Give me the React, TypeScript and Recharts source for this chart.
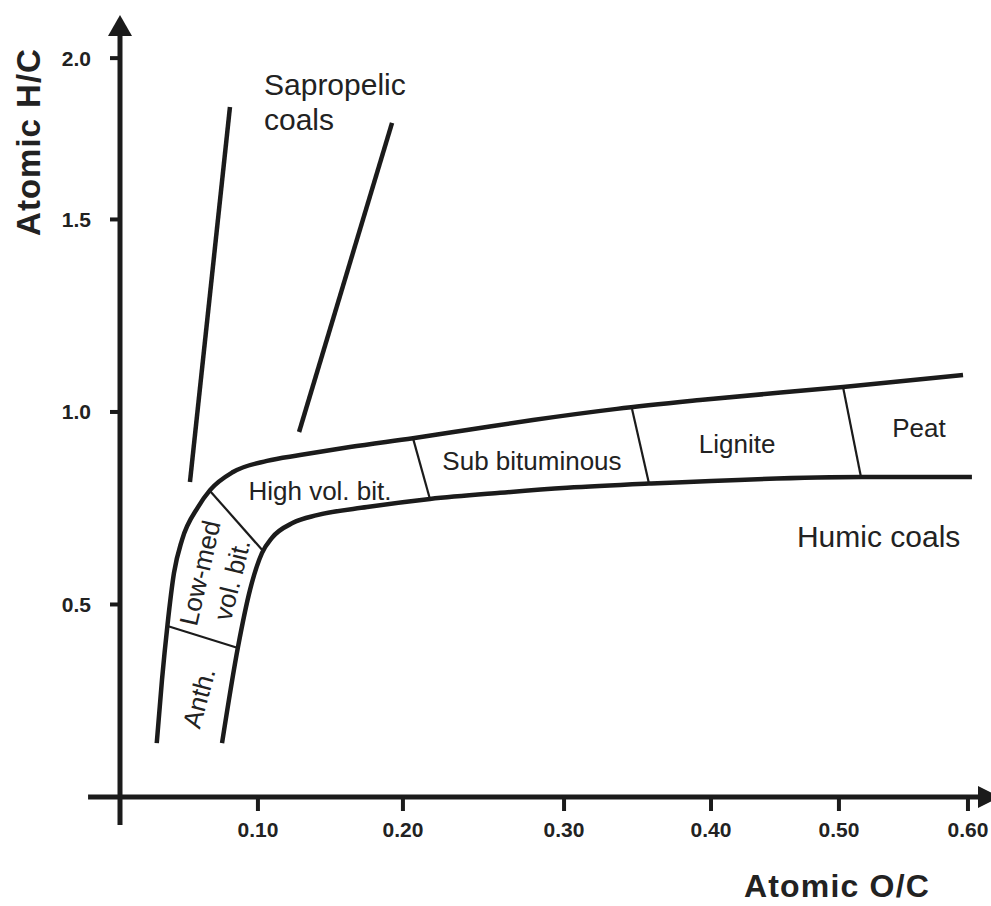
import React from 'react';
import { LineChart, Line, XAxis, YAxis, ReferenceLine, ReferenceDot, Label } from 'recharts';

const FONT = '"Liberation Sans", Arial, Helvetica, sans-serif';
const INK = '#1b1b1b';

// tick positions follow the (hand drawn) figure, labels are what it prints
const xTickPos = [0.0976, 0.2002, 0.3142, 0.4182, 0.5087, 0.6];
const xTickLabels = ['0.10', '0.20', '0.30', '0.40', '0.50', '0.60'];
const yTickPos = [0.5, 1.0, 1.5, 1.919];
const yTickLabels = ['0.5', '1.0', '1.5', '2.0'];

// humic coal band, [O/C, H/C]
const humicUpper: [number, number][] = [
  [0.026, 0.14], [0.0297, 0.304], [0.0336, 0.447], [0.0382, 0.582], [0.0439, 0.668],
  [0.0552, 0.753], [0.0637, 0.797], [0.08, 0.844], [0.104, 0.873], [0.1274, 0.888],
  [0.1627, 0.909], [0.2073, 0.932], [0.2455, 0.953], [0.2922, 0.979], [0.3516, 1.008],
  [0.4104, 1.031], [0.5116, 1.065], [0.5965, 1.096],
];
const humicLower: [number, number][] = [
  [0.0722, 0.14], [0.0835, 0.39], [0.092, 0.538], [0.1005, 0.634], [0.1075, 0.673],
  [0.1224, 0.712], [0.1394, 0.732], [0.1748, 0.753], [0.2193, 0.774], [0.2689, 0.79],
  [0.3163, 0.803], [0.3743, 0.814], [0.525, 0.831], [0.6028, 0.831],
];

// rank boundaries across the band
const anthLowMed: [number, number][] = [[0.0336, 0.444], [0.0835, 0.387]];
const lowMedHighVol: [number, number][] = [[0.0637, 0.795], [0.1005, 0.642]];
const highVolSub: [number, number][] = [[0.2073, 0.932], [0.2193, 0.774]];
const subLignite: [number, number][] = [[0.3623, 1.008], [0.3743, 0.814]];
const lignitePeat: [number, number][] = [[0.5116, 1.065], [0.5243, 0.831]];

// sapropelic coal trend lines
const sapropelicLeft: [number, number][] = [[0.0495, 0.818], [0.0778, 1.792]];
const sapropelicRight: [number, number][] = [[0.1267, 0.948], [0.1925, 1.751]];

const boundaries = [anthLowMed, lowMedHighVol, highVolSub, subLignite, lignitePeat];

type Note = { text: string; x: number; y: number; size: number; anchor: 'start' | 'middle'; rotate?: number };
const notes: Note[] = [
  { text: 'Sapropelic', x: 0.1019, y: 1.823, size: 30, anchor: 'start' },
  { text: 'coals', x: 0.1019, y: 1.732, size: 30, anchor: 'start' },
  { text: 'Humic coals', x: 0.479, y: 0.649, size: 30, anchor: 'start' },
  { text: 'High vol. bit.', x: 0.1415, y: 0.771, size: 26, anchor: 'middle' },
  { text: 'Sub bituminous', x: 0.2915, y: 0.849, size: 26, anchor: 'middle' },
  { text: 'Lignite', x: 0.4366, y: 0.894, size: 26, anchor: 'middle' },
  { text: 'Peat', x: 0.5653, y: 0.935, size: 26, anchor: 'middle' },
  { text: 'Low-med', x: 0.0566, y: 0.582, size: 26, anchor: 'middle', rotate: -77 },
  { text: 'vol. bit.', x: 0.0792, y: 0.564, size: 26, anchor: 'middle', rotate: -76 },
  { text: 'Anth.', x: 0.0559, y: 0.257, size: 26, anchor: 'middle', rotate: -75 },
];

const toPts = (arr: [number, number][]) => arr.map(([x, y]) => ({ x, y }));

export default function App() {
  return (
    <div style={{ position: 'absolute', left: 0, top: 0, background: '#fff' }}>
      <LineChart width={991} height={906} margin={{ top: 15, right: 0, bottom: 0, left: 0 }}>
        <XAxis
          dataKey="x"
          type="number"
          domain={[0, 0.6163]}
          allowDataOverflow
          ticks={xTickPos}
          tickFormatter={(v: number) => xTickLabels[xTickPos.indexOf(v)]}
          height={109}
          axisLine={false}
          tickSize={14}
          tickMargin={11}
          tickLine={{ stroke: INK, strokeWidth: 4 }}
          tick={{ fill: '#222', fontSize: 21, fontWeight: 700, fontFamily: FONT }}
        >
          <Label
            content={({ viewBox }: any) => (
              <text x={viewBox.x + 717} y={viewBox.y + 100} textAnchor="middle"
                fontSize={32} fontWeight={700} letterSpacing={1.2} fontFamily={FONT} fill="#222">
                Atomic O/C
              </text>
            )}
          />
        </XAxis>
        <YAxis
          type="number"
          domain={[0, 2.031]}
          allowDataOverflow
          ticks={yTickPos}
          tickFormatter={(v: number) => yTickLabels[yTickPos.indexOf(v)]}
          width={120}
          axisLine={false}
          tickSize={10}
          tickMargin={19}
          tickLine={{ stroke: INK, strokeWidth: 4 }}
          tick={{ fill: '#222', fontSize: 21, fontWeight: 700, fontFamily: FONT }}
        >
          <Label
            content={({ viewBox }: any) => (
              <text x={28} y={viewBox.y + 127} textAnchor="middle" dominantBaseline="central"
                transform={`rotate(-90 28 ${viewBox.y + 127})`}
                fontSize={33} fontWeight={700} letterSpacing={1} fontFamily={FONT} fill="#222">
                Atomic H/C
              </text>
            )}
          />
        </YAxis>

        {/* axes drawn through the origin, overhanging like the original */}
        <ReferenceLine segment={[{ x: 0, y: -0.0727 }, { x: 0, y: 2.0 }]} stroke={INK} strokeWidth={5} ifOverflow="visible" />
        <ReferenceLine segment={[{ x: -0.0226, y: 0 }, { x: 0.61, y: 0 }]} stroke={INK} strokeWidth={5} ifOverflow="visible" />
        <ReferenceDot x={0} y={2.031} r={0} ifOverflow="visible"
          shape={(p: any) => <polygon points={`${p.cx},${p.cy} ${p.cx - 12},${p.cy + 21} ${p.cx + 12},${p.cy + 21}`} fill={INK} />} />
        <ReferenceDot x={0.6163} y={0} r={0} ifOverflow="visible"
          shape={(p: any) => <polygon points={`${p.cx + 9},${p.cy} ${p.cx - 13},${p.cy - 11} ${p.cx - 13},${p.cy + 11}`} fill={INK} />} />

        <Line data={toPts(humicUpper)} dataKey="y" type="monotone" stroke={INK} strokeWidth={4.5} dot={false} isAnimationActive={false} />
        <Line data={toPts(humicLower)} dataKey="y" type="monotone" stroke={INK} strokeWidth={4.5} dot={false} isAnimationActive={false} />
        <Line data={toPts(sapropelicLeft)} dataKey="y" type="linear" stroke={INK} strokeWidth={4.5} dot={false} isAnimationActive={false} />
        <Line data={toPts(sapropelicRight)} dataKey="y" type="linear" stroke={INK} strokeWidth={4.5} dot={false} isAnimationActive={false} />
        {boundaries.map((b, i) => (
          <Line key={i} data={toPts(b)} dataKey="y" type="linear" stroke={INK} strokeWidth={2.2} dot={false} isAnimationActive={false} />
        ))}

        {notes.map((n) => (
          <ReferenceDot key={n.text} x={n.x} y={n.y} r={0} ifOverflow="visible"
            shape={(p: any) => (
              <text x={p.cx} y={p.cy} textAnchor={n.anchor} fontSize={n.size} fontFamily={FONT} fill="#222"
                dominantBaseline={n.rotate ? 'central' : 'auto'}
                transform={n.rotate ? `rotate(${n.rotate} ${p.cx} ${p.cy})` : undefined}>
                {n.text}
              </text>
            )} />
        ))}
      </LineChart>
    </div>
  );
}
